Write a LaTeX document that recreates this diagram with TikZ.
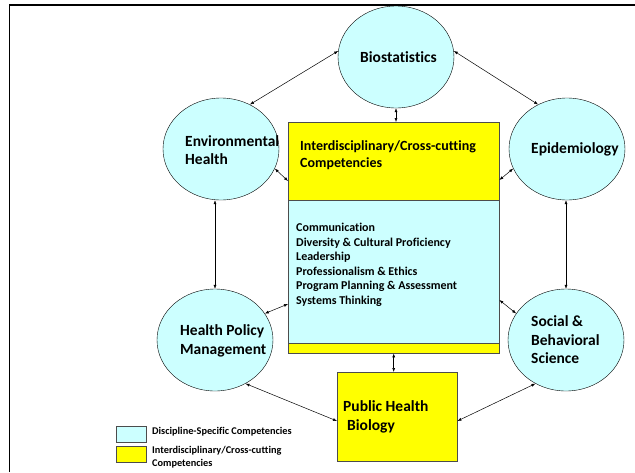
\documentclass[tikz,border=0pt]{standalone}
\usepackage{fontspec}
\setmainfont{Carlito}[Ligatures=CommonOff]
\usetikzlibrary{shapes.geometric,arrows.meta}
\definecolor{discfill}{RGB}{204,255,255}
\definecolor{crossfill}{RGB}{255,255,0}
\tikzset{
  disc/.style={ellipse, draw, thin, fill=discfill, minimum width=116pt, minimum height=102pt, inner sep=0pt},
  panel/.style={rectangle, draw=black!70, thin, inner sep=0pt, anchor=north west},
  lbl/.style={font=\bfseries\fontsize{15.5}{18.5}\selectfont, align=left, anchor=west, inner sep=0pt},
  link/.style={<->, >={Latex[length=4pt,width=3pt]}, line width=0.5pt}
}
\begin{document}
\begin{tikzpicture}[x=1pt, y=-1pt]
            \useasboundingbox (0,0) rectangle (635,472);
            \draw[line width=1.6pt] (9.5,472) -- (9.5,5) -- (635,5);
            % discipline circles
            \node[disc] (bio) at (396,57) {};
            \node[disc] (env) at (221,149) {};
            \node[disc] (epi) at (567,149) {};
            \node[disc] (hpm) at (215,340) {};
            \node[disc] (sbs) at (566,340) {};
            \node[lbl] (biot) at (360,57) {Biostatistics};
            \node[lbl] (envt) at (185,150) {Environmental\\Health};
            \node[lbl] (epit) at (531,149) {Epidemiology};
            \node[lbl] (hpmt) at (180,341) {Health Policy\\Management};
            \node[lbl] (sbst) at (531,340) {Social \&\\Behavioral\\Science};
            % central block
            \node[panel, fill=crossfill, minimum width=211pt, minimum height=78pt] (cross) at (288,122) {};
            \node[panel, fill=discfill, minimum width=211pt, minimum height=143pt] (list) at (288,200) {};
            \node[panel, fill=crossfill, minimum width=211pt, minimum height=10pt] (strip) at (288,343) {};
            \node[lbl, font=\bfseries\fontsize{14}{17}\selectfont] (crosst) at (300,155) {Interdisciplinary/Cross-cutting\\Competencies};
            \node[lbl, font=\bfseries\fontsize{12}{14.5}\selectfont] (listt) at (296,265) {Communication\\Diversity \& Cultural Proficiency\\Leadership\\Professionalism \& Ethics\\Program Planning \& Assessment\\Systems Thinking};
            \node[panel, fill=crossfill, minimum width=120pt, minimum height=89pt] (phb) at (337,372) {};
            \node[lbl] (phbt) at (343,417) {Public Health\\\hspace{4pt}Biology};
            % links
            \draw[link] (bio.174) -- (env.57);
            \draw[link] (bio.6) -- (epi.123);
            \draw[link] (bio.south) -- (bio.south |- cross.north);
            \draw[link] (env.-20) -- (cross.west |- 0,181);
            \draw[link] (epi.-160) -- (cross.east |- 0,180);
            \draw[link] (env.south -| hpm.north) -- (hpm.north);
            \draw[link] (epi.south -| sbs.north) -- (sbs.north);
            \draw[link] (hpm.28) -- (list.west |- 0,304);
            \draw[link] (sbs.152) -- (list.east |- 0,300);
            \draw[link] (strip.south) -- (phb.north -| strip.south);
            \draw[link] (hpm.-55) -- (phb.west |- 0,421);
            \draw[link] (sbs.-125) -- (phb.east |- 0,421);
            % legend
            \node[panel, fill=discfill, minimum width=30pt, minimum height=16pt] (keyd) at (116,426) {};
            \node[panel, fill=crossfill, minimum width=30pt, minimum height=16pt] (keyc) at (116,446) {};
            \node[lbl, font=\bfseries\fontsize{10.3}{13}\selectfont] (keydt) at (152,432) {Discipline-Specific Competencies};
            \node[lbl, font=\bfseries\fontsize{10.3}{13}\selectfont, anchor=north west] (keyct) at (152,446) {Interdisciplinary/Cross-cutting\\Competencies};
\end{tikzpicture}
\end{document}
